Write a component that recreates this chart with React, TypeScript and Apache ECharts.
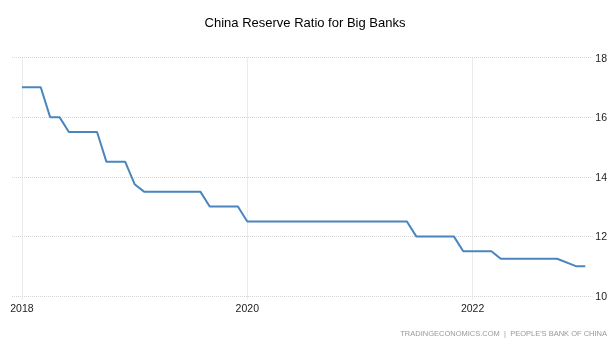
import React, { useEffect, useRef } from "react";
import * as echarts from "echarts";

const months = [
  "2018-01","2018-02","2018-03","2018-04","2018-05","2018-06","2018-07","2018-08","2018-09","2018-10","2018-11","2018-12",
  "2019-01","2019-02","2019-03","2019-04","2019-05","2019-06","2019-07","2019-08","2019-09","2019-10","2019-11","2019-12",
  "2020-01","2020-02","2020-03","2020-04","2020-05","2020-06","2020-07","2020-08","2020-09","2020-10","2020-11","2020-12",
  "2021-01","2021-02","2021-03","2021-04","2021-05","2021-06","2021-07","2021-08","2021-09","2021-10","2021-11","2021-12",
  "2022-01","2022-02","2022-03","2022-04","2022-05","2022-06","2022-07","2022-08","2022-09","2022-10","2022-12",
  "2023-01",
];
const ratio = [
  17, 17, 17, 16, 16, 15.5, 15.5, 15.5, 15.5, 14.5, 14.5, 14.5,
  13.75, 13.5, 13.5, 13.5, 13.5, 13.5, 13.5, 13.5, 13, 13, 13, 13,
  12.5, 12.5, 12.5, 12.5, 12.5, 12.5, 12.5, 12.5, 12.5, 12.5, 12.5, 12.5,
  12.5, 12.5, 12.5, 12.5, 12.5, 12.5, 12, 12, 12, 12, 12, 11.5,
  11.5, 11.5, 11.5, 11.25, 11.25, 11.25, 11.25, 11.25, 11.25, 11.25, 11,
  11,
];
const yearTicks = [2018, 2020, 2022];
const yTicks = [10, 12, 14, 16, 18];

const BASE_YEAR = 2018;
const monthIndex = (m: string) => {
  const [y, mo] = m.split("-").map(Number);
  return (y - BASE_YEAR) * 12 + (mo - 1);
};

export default function App() {
  const ref = useRef<HTMLDivElement>(null);
  useEffect(() => {
    if (!ref.current) return;
    const chart = echarts.init(ref.current, null, { renderer: "svg" });
    const labelFont = "'Liberation Sans Narrow', 'Arial Narrow', 'Liberation Sans', Arial, sans-serif";
    const grid = "#d6d6d6";
    chart.setOption({
      animation: false,
      title: {
        text: "China Reserve Ratio for Big Banks",
        left: "center",
        top: 11,
        textStyle: {
          fontFamily: "'Liberation Sans', Arial, sans-serif",
          fontSize: 13,
          fontWeight: "normal",
          color: "#000",
        },
      },
      graphic: [
        {
          type: "text",
          right: 3,
          top: 329,
          style: {
            text: "TRADINGECONOMICS.COM  |  PEOPLE'S BANK OF CHINA",
            fontFamily: "'Liberation Sans', Arial, sans-serif",
            fontSize: 7.5,
            fill: "#999999",
          },
        },
      ],
      grid: { left: 12, right: 17, top: 57.5, bottom: 42 },
      xAxis: {
        type: "value",
        min: -1.06,
        max: 60.75,
        axisLine: { show: false },
        axisTick: {
          show: true,
          length: 3,
          customValues: yearTicks.map((y) => (y - BASE_YEAR) * 12),
          lineStyle: { color: grid, type: "dotted" },
        },
        axisLabel: {
          customValues: yearTicks.map((y) => (y - BASE_YEAR) * 12),
          formatter: (v: number) => String(BASE_YEAR + Math.round(v / 12)),
          fontFamily: labelFont,
          fontSize: 10.5,
          color: "#222",
          margin: 6,
        },
        splitLine: {
          show: true,
          lineStyle: { color: grid, type: "dotted", width: 1 },
        },
      },
      yAxis: {
        type: "value",
        position: "right",
        min: 10,
        max: 18,
        interval: 2,
        axisLine: { show: false },
        axisTick: { show: false },
        axisLabel: {
          fontFamily: labelFont,
          fontSize: 10.5,
          color: "#222",
          margin: 3,
          formatter: (v: number) => (yTicks.includes(v) ? String(v) : ""),
        },
        splitLine: {
          show: true,
          lineStyle: { color: grid, type: "dotted", width: 1 },
        },
      },
      series: [
        {
          type: "line",
          data: months.map((m, i) => [monthIndex(m), ratio[i]]),
          showSymbol: false,
          symbol: "none",
          lineStyle: { color: "#4a86bd", width: 2 },
        },
      ],
    });
    return () => chart.dispose();
  }, []);
  return (
    <div
      ref={ref}
      style={{ position: "fixed", left: 0, top: 0, width: 610, height: 338 }}
    />
  );
}
